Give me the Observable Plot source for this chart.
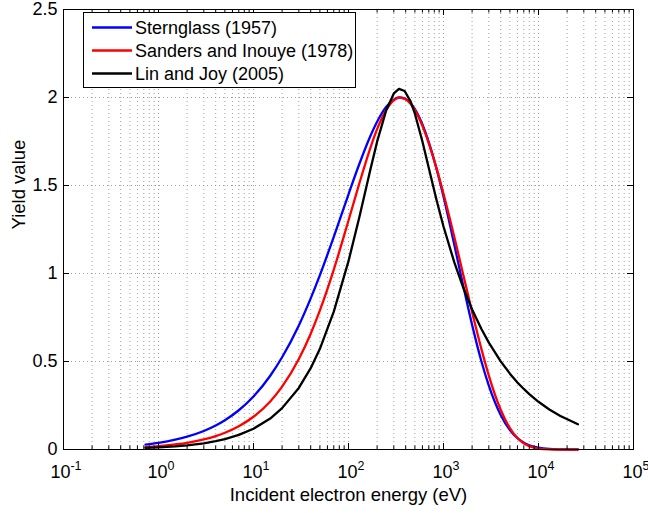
<!DOCTYPE html>
<html><head><meta charset="utf-8">
<script src="https://cdn.jsdelivr.net/npm/d3@7"></script>
<script src="https://cdn.jsdelivr.net/npm/@observablehq/plot@0.6"></script>
<style>
html,body{margin:0;padding:0;background:#fff;}
#chart{width:648px;height:513px;}
</style></head><body><div id="chart"></div>
<script>
// ---- data ----
const energies = [0.73, 1, 1.5, 2, 3, 4, 5, 7, 10, 15, 20, 30, 40, 50, 70, 100, 130, 170, 200, 250, 300, 340, 390, 450, 500, 600, 700, 850, 1000, 1300, 1600, 2000, 2500, 3000, 4000, 5000, 6000, 7000, 8000, 10000, 13000, 17000, 26000];
const sternglass = [0.028, 0.038, 0.056, 0.073, 0.105, 0.136, 0.166, 0.223, 0.301, 0.419, 0.524, 0.705, 0.859, 0.991, 1.208, 1.450, 1.622, 1.781, 1.862, 1.947, 1.988, 2.000, 1.994, 1.967, 1.934, 1.847, 1.747, 1.590, 1.437, 1.163, 0.939, 0.708, 0.503, 0.363, 0.196, 0.110, 0.064, 0.039, 0.024, 0.010, 0.003, 0.001, 0.000];
const sanders = [0.014, 0.019, 0.029, 0.038, 0.057, 0.076, 0.095, 0.132, 0.186, 0.273, 0.357, 0.514, 0.658, 0.790, 1.022, 1.301, 1.512, 1.714, 1.820, 1.930, 1.984, 1.999, 1.994, 1.965, 1.928, 1.839, 1.740, 1.592, 1.453, 1.207, 1.002, 0.781, 0.573, 0.420, 0.226, 0.121, 0.065, 0.035, 0.019, 0.005, 0.001, 0.000, 0.000];
const linJoy = [0.009, 0.012, 0.018, 0.024, 0.035, 0.047, 0.059, 0.083, 0.118, 0.176, 0.235, 0.350, 0.462, 0.572, 0.783, 1.070, 1.320, 1.591, 1.749, 1.929, 2.023, 2.049, 2.037, 1.978, 1.908, 1.750, 1.600, 1.412, 1.267, 1.063, 0.925, 0.796, 0.686, 0.607, 0.501, 0.431, 0.381, 0.344, 0.315, 0.271, 0.227, 0.190, 0.143];
const seriesNames = ["Sternglass (1957)", "Sanders and Inouye (1978)", "Lin and Joy (2005)"];
const seriesColors = ["#0000ff", "#ff0000", "#000000"];
const seriesValues = [sternglass, sanders, linJoy];
const xTickValues = [0.1, 1, 10, 100, 1000, 10000, 100000];
const xTickExponents = ["-1", "0", "1", "2", "3", "4", "5"];
const yTicks = [0, 0.5, 1, 1.5, 2, 2.5];
const xLabel = "Incident electron energy (eV)";
const yLabel = "Yield value";

// ---- layout ----
const W = 648, H = 513, mL = 63, mR = 15, mT = 9, mB = 64;
const innerW = W - mL - mR, innerH = H - mT - mB;
const font = "'Liberation Sans', Arial, Helvetica, sans-serif";
const fs = 18;

const rows = [];
seriesNames.forEach((name, i) => energies.forEach((e, j) => rows.push({series: name, energy: e, value: seriesValues[i][j]})));
const smoothRows = rows.filter(r => r.series !== seriesNames[2]);
const joyRows = rows.filter(r => r.series === seriesNames[2]);

const allLogTicks = d3.scaleLog().domain([0.1, 1e5]).ticks();
const minorX = allLogTicks.filter(v => !xTickValues.some(m => Math.abs(m - v) / m < 1e-9));
const gridXVals = allLogTicks.filter(v => v > 0.1 && v < 1e5);
const gridYVals = yTicks.filter(v => v > 0 && v < 2.5);
const gridStyle = {stroke: "#888", strokeWidth: 1, strokeDasharray: "1,3", strokeOpacity: 0.8};

const plot = Plot.plot({
  width: W, height: H,
  marginLeft: mL, marginRight: mR, marginTop: mT, marginBottom: mB,
  style: {fontFamily: font, fontSize: fs + "px", background: "#fff", color: "#000", overflow: "visible"},
  x: {type: "log", domain: [0.1, 1e5], axis: null},
  y: {domain: [0, 2.5], ticks: yTicks, tickSize: 0, tickPadding: 6, tickFormat: d => String(d), label: null},
  color: {domain: seriesNames, range: seriesColors},
  marks: [
    Plot.ruleX(gridXVals, {...gridStyle}),
    Plot.ruleY(gridYVals, {...gridStyle}),
    Plot.line(smoothRows, {x: "energy", y: "value", z: "series", stroke: "series", strokeWidth: 2.3, curve: "monotone-x"}),
    Plot.line(joyRows, {x: "energy", y: "value", z: "series", stroke: "series", strokeWidth: 2.3}),
    Plot.frame({stroke: "#000", strokeWidth: 1}),
    Plot.tickX(xTickValues, {x: d => d, insetTop: innerH - 6, stroke: "#000"}),
    Plot.tickX(xTickValues, {x: d => d, insetBottom: innerH - 6, stroke: "#000"}),
    Plot.tickX(minorX, {x: d => d, insetTop: innerH - 3.5, stroke: "#000"}),
    Plot.tickX(minorX, {x: d => d, insetBottom: innerH - 3.5, stroke: "#000"}),
    Plot.tickY(yTicks, {y: d => d, insetRight: innerW - 6, stroke: "#000"}),
    Plot.tickY(yTicks, {y: d => d, insetLeft: innerW - 6, stroke: "#000"}),
    Plot.text([xLabel], {text: d => d, frameAnchor: "bottom", dy: 46, fontSize: 18.5, lineAnchor: "middle"}),
    Plot.text([yLabel], {text: d => d, frameAnchor: "left", dx: -44, rotate: -90, fontSize: 18.5, lineAnchor: "middle"})
  ]
});

// x tick labels with superscripts, positioned by Plot's x scale
const xs = plot.scale("x");
const svg = d3.select(plot);
const gx = svg.append("g").attr("font-family", font).attr("fill", "#000");
xTickValues.forEach((v, i) => {
  const t = gx.append("text").attr("x", xs.apply(v) + 3).attr("y", H - mB + 29)
    .attr("text-anchor", "middle").attr("font-size", fs);
  t.append("tspan").text("10");
  t.append("tspan").attr("dy", -8).attr("font-size", 12.5).text(xTickExponents[i]);
});

// legend
const lg = svg.append("g").attr("font-family", font).attr("font-size", fs).attr("text-anchor", "start");
const lx = 83.5, ly = 12.5, lw = 272, lh = 75;
lg.append("rect").attr("x", lx).attr("y", ly).attr("width", lw).attr("height", lh)
  .attr("fill", "#fff").attr("stroke", "#000").attr("stroke-width", 1);
seriesNames.forEach((name, i) => {
  const cy = 27.5 + i * 23;
  lg.append("line").attr("x1", 92).attr("x2", 132).attr("y1", cy).attr("y2", cy)
    .attr("stroke", seriesColors[i]).attr("stroke-width", 2.3);
  lg.append("text").attr("x", 135).attr("y", cy).attr("dy", "0.35em").attr("text-anchor", "start").text(name);
});

document.getElementById("chart").appendChild(plot);
</script>
</body></html>
